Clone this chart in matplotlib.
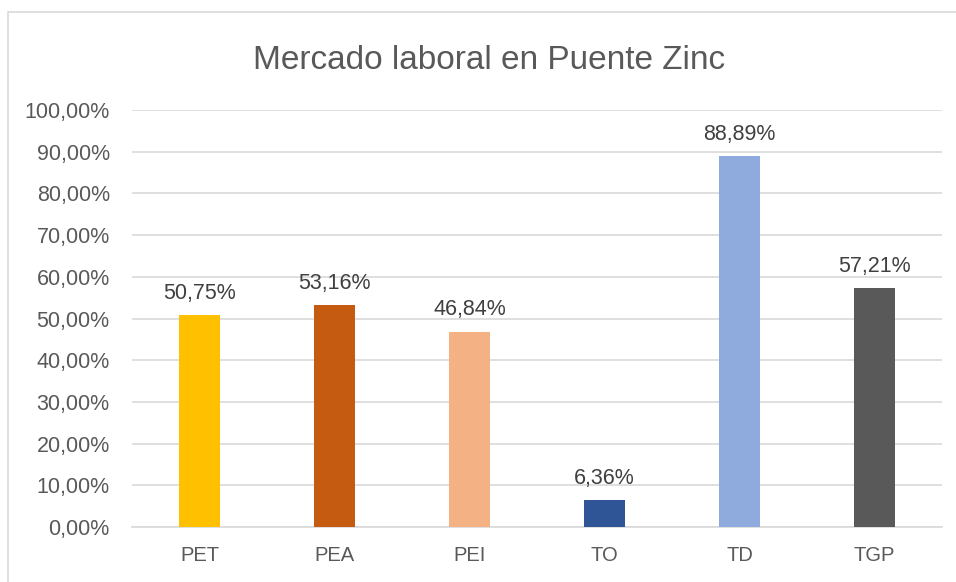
import matplotlib
matplotlib.use("Agg")
import matplotlib.pyplot as plt
from matplotlib.patches import Rectangle
from matplotlib.ticker import FuncFormatter

# Datos del grafico
categorias = ["PET", "PEA", "PEI", "TO", "TD", "TGP"]
valores = [50.75, 53.16, 46.84, 6.36, 88.89, 57.21]
colores = ["#FFC000", "#C55A11", "#F4B183", "#2F5597", "#8FAADC", "#595959"]
titulo = "Mercado laboral en Puente Zinc"

def pct(v):
    return "{:.2f}%".format(v).replace(".", ",")

plt.rcParams['font.family'] = ['Liberation Sans', 'DejaVu Sans']

fig = plt.figure(figsize=(9.56, 5.82), dpi=100)

# Marco del grafico (cortado a la derecha y abajo)
marco = Rectangle((8 / 956, -0.05), 1.2, 1 - 12 / 582 + 0.05, transform=fig.transFigure,
                  fill=False, edgecolor="#D9D9D9", linewidth=1.2)
fig.patches.append(marco)

ax = fig.add_axes([132 / 956, 1 - 527 / 582, 810 / 956, 417 / 582])
x = range(len(categorias))
ax.bar(x, valores, width=0.31, color=colores, zorder=3)

for i, v in enumerate(valores):
    ax.annotate(pct(v), (i, v), xytext=(0, 12), textcoords="offset points",
                ha="center", va="baseline", fontsize=15.5, color="#404040")

ax.set_ylim(0, 100)
ax.set_xlim(-0.5, len(categorias) - 0.5)
ax.set_yticks(range(0, 101, 10))
ax.yaxis.set_major_formatter(FuncFormatter(lambda v, p: pct(v)))
ax.set_xticks(list(x))
ax.set_xticklabels(categorias)
ax.tick_params(axis="both", length=0, colors="#595959")
ax.tick_params(axis="y", labelsize=15.5, pad=16)
ax.tick_params(axis="x", labelsize=14.5, pad=14)
ax.grid(axis="y", color="#D9D9D9", linewidth=1.2, zorder=0)
for s in ["top", "right", "left"]:
    ax.spines[s].set_visible(False)
ax.spines["bottom"].set_color("#D9D9D9")
ax.spines["bottom"].set_linewidth(1.2)

fig.text(489 / 956, 1 - 69 / 582, titulo, ha="center", va="baseline", fontsize=24, color="#595959")

fig.savefig("out.png", dpi=100)
